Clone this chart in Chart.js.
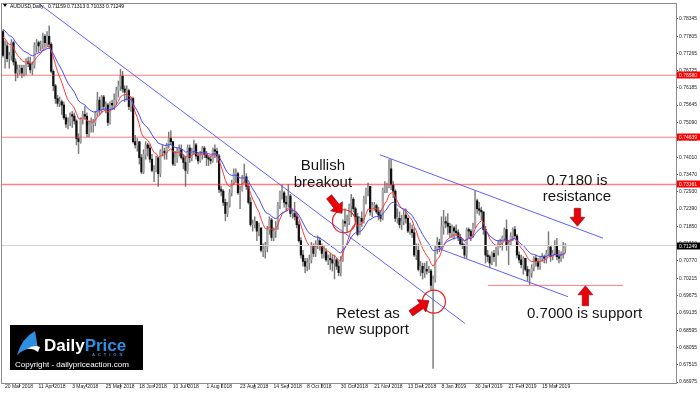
<!DOCTYPE html>
<html>
<head>
<meta charset="utf-8">
<script src="https://cdn.jsdelivr.net/npm/chart.js@4.4.0/dist/chart.umd.min.js"></script>
<style>
  html, body { margin: 0; padding: 0; background: #fff; }
  #wrap { width: 700px; height: 394px; }
</style>
</head>
<body>
<div id="wrap"><canvas id="audChart" width="700" height="394"></canvas></div>
<script>
// AUDUSD daily, prices in pips (x 10000)
const symbolTitle = 'AUDUSD,Daily';
const lastOhlc = ['0.71159', '0.71313', '0.71033', '0.71249'];

const tickBars = [0, 16, 32, 48, 64, 80, 96, 112, 128, 144, 160, 176, 192, 208, 224, 240, 256];
const tickLabels = ['20 Mar 2018', '11 Apr 2018', '3 May 2018', '25 May 2018', '18 Jun 2018', '10 Jul 2018',
  '1 Aug 2018', '23 Aug 2018', '14 Sep 2018', '8 Oct 2018', '30 Oct 2018', '21 Nov 2018', '13 Dec 2018',
  '8 Jan 2019', '30 Jan 2019', '21 Feb 2019', '15 Mar 2019'];
const priceLabels = ['0.78345', '0.77805', '0.77265', '0.76725', '0.76185', '0.75645', '0.75090', '0.74550',
  '0.74010', '0.73470', '0.72930', '0.72390', '0.71850', '0.71310', '0.70770', '0.70215', '0.69675',
  '0.69135', '0.68595', '0.68055', '0.67515', '0.66975'];

const levels = [7658.0, 7463.9, 7316.1];
const levelLabels = ['0.76580', '0.74639', '0.73161'];
const lastPrice = 7124.9;
const supportLevel = 7000;

const firstOpen = 7795;
const closes = [
  7720,7750,7710,7720,7760,7700,7665,7675,7680,7665,
  7680,7700,7695,7675,7690,7750,7760,7750,7755,7780,
  7760,7780,7755,7670,7625,7585,7570,7575,7565,7525,
  7505,7510,7535,7530,7515,7460,7450,7520,7535,7530,
  7475,7500,7505,7510,7540,7580,7550,7590,7560,7565,
  7510,7570,7565,7580,7610,7625,7655,7615,7605,7610,
  7560,7585,7450,7440,7450,7400,7355,7410,7440,7430,
  7395,7360,7360,7400,7350,7420,7420,7415,7440,7460,
  7450,7380,7400,7420,7425,7400,7385,7360,7430,7400,
  7420,7440,7405,7390,7410,7430,7410,7400,7395,7390,
  7425,7420,7405,7300,7295,7260,7225,7250,7290,7320,
  7350,7350,7290,7300,7335,7340,7310,7260,7190,7190,
  7200,7170,7180,7110,7110,7120,7175,7205,7150,7170,
  7180,7250,7290,7290,7260,7255,7280,7225,7225,7215,
  7190,7140,7095,7075,7060,7070,7080,7125,7100,7130,
  7140,7125,7100,7105,7080,7085,7080,7070,7080,7060,
  7040,7080,7200,7195,7200,7250,7270,7240,7215,7160,
  7210,7200,7270,7300,7310,7230,7250,7250,7230,7220,
  7210,7300,7310,7310,7365,7315,7295,7210,7210,7190,
  7200,7220,7210,7170,7175,7165,7095,7110,7050,7060,
  7040,7050,7045,7045,7000,7020,7115,7135,7120,7185,
  7200,7195,7185,7165,7180,7170,7165,7150,7130,7125,
  7095,7175,7170,7155,7185,7265,7240,7235,7230,7175,
  7095,7090,7070,7100,7090,7110,7130,7135,7150,7175,
  7125,7130,7155,7175,7155,7095,7080,7065,7085,7050,
  7030,7040,7055,7085,7075,7060,7085,7090,7085,7100,
  7120,7090,7100,7125,7090,7085,7095,7115.9,7124.9
];
const highs = [
  7800,7765,7760,7730,7770,7765,7710,7690,7690,7690,
  7690,7710,7715,7715,7700,7760,7770,7765,7765,7790,
  7785,7795,7813,7760,7675,7630,7595,7590,7580,7575,
  7535,7525,7540,7545,7540,7520,7475,7525,7545,7560,
  7540,7515,7525,7520,7545,7605,7590,7595,7595,7575,
  7570,7575,7580,7600,7620,7640,7677,7670,7625,7625,
  7615,7590,7590,7470,7460,7450,7410,7425,7450,7445,
  7440,7410,7375,7405,7400,7425,7440,7430,7445,7480,
  7485,7450,7420,7430,7440,7440,7410,7405,7440,7440,
  7430,7455,7445,7415,7420,7435,7435,7420,7405,7405,
  7430,7440,7430,7410,7310,7300,7270,7260,7300,7330,
  7365,7365,7355,7310,7345,7380,7350,7320,7275,7205,
  7215,7200,7195,7180,7130,7135,7185,7215,7210,7180,
  7200,7260,7295,7315,7295,7280,7316,7285,7240,7260,
  7230,7200,7150,7110,7085,7085,7095,7135,7130,7140,
  7155,7150,7130,7125,7115,7095,7100,7095,7095,7085,
  7075,7090,7205,7240,7220,7255,7285,7275,7245,7225,
  7215,7230,7280,7305,7320,7310,7260,7260,7255,7245,
  7235,7305,7325,7320,7394,7395,7325,7300,7240,7230,
  7220,7235,7240,7215,7195,7190,7180,7130,7130,7075,
  7070,7070,7075,7060,7050,7030,7125,7150,7145,7215,
  7235,7215,7225,7195,7190,7185,7190,7175,7160,7145,
  7130,7180,7180,7175,7195,7296,7270,7260,7245,7230,
  7185,7110,7095,7105,7110,7120,7140,7145,7155,7180,
  7205,7140,7165,7180,7185,7160,7105,7095,7090,7085,
  7060,7050,7065,7090,7095,7085,7090,7100,7095,7110,
  7168,7125,7110,7140,7147,7110,7105,7135,7131.3
];
const lows = [
  7715,7680,7700,7680,7705,7690,7640,7650,7660,7650,
  7655,7660,7685,7665,7660,7680,7730,7730,7735,7740,
  7745,7750,7745,7665,7610,7570,7560,7560,7535,7520,
  7495,7490,7500,7495,7505,7440,7413,7445,7505,7520,
  7465,7465,7480,7480,7500,7530,7535,7540,7550,7540,
  7500,7505,7550,7550,7565,7590,7610,7605,7575,7580,
  7550,7545,7445,7430,7420,7380,7350,7350,7395,7405,
  7385,7355,7325,7355,7310,7340,7405,7395,7395,7430,
  7440,7375,7375,7385,7405,7395,7365,7310,7350,7385,
  7390,7410,7395,7380,7385,7395,7400,7375,7375,7380,
  7385,7400,7385,7290,7280,7250,7202,7215,7245,7280,
  7315,7325,7285,7240,7295,7320,7300,7255,7185,7170,
  7180,7140,7155,7105,7090,7085,7105,7160,7140,7140,
  7150,7175,7240,7270,7245,7235,7245,7215,7210,7205,
  7180,7135,7085,7060,7040,7045,7050,7070,7090,7090,
  7115,7110,7085,7085,7075,7065,7050,7045,7020,7050,
  7030,7030,7075,7185,7165,7190,7215,7230,7200,7155,
  7160,7185,7195,7255,7280,7220,7215,7235,7225,7205,
  7200,7205,7290,7290,7305,7300,7275,7200,7195,7180,
  7175,7190,7195,7165,7160,7150,7090,7080,7045,7030,
  7020,7025,7035,7040,6985,6740,7010,7100,7105,7110,
  7160,7180,7160,7150,7150,7145,7155,7140,7125,7115,
  7085,7085,7150,7140,7150,7180,7225,7220,7205,7160,
  7070,7075,7055,7065,7075,7060,7095,7120,7110,7140,
  7110,7065,7125,7140,7150,7085,7070,7055,7035,7045,
  7015,7003,7025,7045,7060,7050,7050,7075,7070,7070,
  7095,7075,7080,7095,7080,7070,7075,7085,7103.3
];
// daily FX bars open at the previous close
const opens = closes.map((c, i) => i === 0 ? firstOpen : closes[i - 1]);

// moving averages (10 and 20 EMA), seeded with the levels at the left edge
const maSeedRed = 7790, maSeedBlue = 7810;
function ema(src, n, seed) {
  let e = seed;
  return src.map(v => (e = e + (v - e) * 2 / (n + 1)));
}
const emaRed = ema(closes, 10, maSeedRed);
const emaBlue = ema(closes, 20, maSeedBlue);

// drawn trend lines [bar, price]
const trendMain = [[16.7, 7884.2], [220.2, 6880.8]];
const channelTop = [[179.7, 7408.9], [286.0, 7147.9]];
const channelBottom = [[208.3, 7113.8], [269.3, 6964.6]];
const supportSeg = [[231.2, supportLevel], [295.5, supportLevel]];

const xMin = -0.4766, xMax = 320.78;
const yMin = 6694.38, yMax = 7881.10;

const bull = '#a8a8a8', bear = '#111111';
const toPts = arr => arr.map(p => ({ x: p[0], y: p[1] }));
const lineDs = (pts, color, width) => ({
  type: 'line', data: toPts(pts), borderColor: color, borderWidth: width || 1,
  pointRadius: 0, tension: 0, fill: false
});

const datasets = [
  {
    type: 'bar', data: closes.map((c, i) => ({ x: i, y: [lows[i], highs[i]] })),
    backgroundColor: '#7a7a7a', barThickness: 0.8, grouped: false, order: 5
  },
  {
    type: 'bar', data: closes.map((c, i) => ({ x: i, y: [opens[i], closes[i]] })),
    backgroundColor: ctx => closes[ctx.dataIndex] >= opens[ctx.dataIndex] ? bull : bear,
    barThickness: 1.6, minBarLength: 1, grouped: false, order: 4
  },
  { type: 'line', data: emaRed.map((v, i) => ({ x: i, y: v })), borderColor: '#ff3a3a', borderWidth: 1, pointRadius: 0, order: 3 },
  { type: 'line', data: emaBlue.map((v, i) => ({ x: i, y: v })), borderColor: '#4747ff', borderWidth: 1, pointRadius: 0, order: 2 },
  lineDs([[xMin, levels[0]], [xMax, levels[0]]], 'rgba(255,40,40,0.6)'),
  lineDs([[xMin, levels[1]], [xMax, levels[1]]], 'rgba(255,40,40,0.6)'),
  lineDs([[xMin, levels[2]], [xMax, levels[2]]], 'rgba(255,40,40,0.6)', 1.5),
  lineDs([[xMin, lastPrice], [xMax, lastPrice]], '#d2d2d2'),
  lineDs(supportSeg, 'rgba(255,40,40,0.6)'),
  lineDs(trendMain, '#6060ff'),
  lineDs(channelTop, '#6060ff'),
  lineDs(channelBottom, '#6060ff')
];

// annotations in chart coordinates [bar, price]
const notes = [
  { text: 'Bullish', at: [152.5, 7362.3] },
  { text: 'breakout', at: [152.5, 7309.5] },
  { text: '0.7180 is', at: [273.6, 7315.7] },
  { text: 'resistance', at: [273.6, 7262.9] },
  { text: '0.7000 is support', at: [277.2, 6899.3] },
  { text: 'Retest as', at: [174.0, 6899.3] },
  { text: 'new support', at: [174.0, 6846.6] }
];
const rings = [[162.5, 7200.8], [205.4, 6949.1]];
const arrows = [
  { at: [161.6, 7225.6], angle: 52, len: 21 },
  { at: [273.8, 7185.2], angle: 90, len: 18 },
  { at: [277.6, 6998.8], angle: -90, len: 20 },
  { at: [203.0, 6952.2], angle: -35, len: 22 }
];

function drawArrow(ctx, x, y, angle, len) {
  const hl = 9, hw = 7.5, sw = 3.2;
  ctx.save();
  ctx.translate(x, y);
  ctx.rotate(angle * Math.PI / 180);
  ctx.beginPath();
  ctx.moveTo(0, 0);
  ctx.lineTo(-hl, hw);
  ctx.lineTo(-hl, sw);
  ctx.lineTo(-len, sw);
  ctx.lineTo(-len, -sw);
  ctx.lineTo(-hl, -sw);
  ctx.lineTo(-hl, -hw);
  ctx.closePath();
  ctx.fillStyle = '#e8000b';
  ctx.fill();
  ctx.strokeStyle = '#9a0000';
  ctx.lineWidth = 0.6;
  ctx.stroke();
  ctx.restore();
}

const overlay = {
  id: 'overlay',
  beforeDraw(chart) {
    const ctx = chart.ctx;
    ctx.save();
    ctx.fillStyle = '#fff';
    ctx.fillRect(0, 0, chart.width, chart.height);
    ctx.restore();
  },
  afterDatasetsDraw(chart) {
    const ctx = chart.ctx, xs = chart.scales.x, ys = chart.scales.y;
    ctx.save();
    rings.forEach(r => {
      ctx.beginPath();
      ctx.arc(xs.getPixelForValue(r[0]), ys.getPixelForValue(r[1]), 11.5, 0, Math.PI * 2);
      ctx.strokeStyle = '#ee2020';
      ctx.lineWidth = 1.2;
      ctx.stroke();
    });
    arrows.forEach(a => drawArrow(ctx, xs.getPixelForValue(a.at[0]), ys.getPixelForValue(a.at[1]), a.angle, a.len));
    ctx.fillStyle = '#151515';
    ctx.font = '15px "Liberation Sans", Arial, sans-serif';
    ctx.textAlign = 'center';
    ctx.textBaseline = 'alphabetic';
    notes.forEach(n => ctx.fillText(n.text, xs.getPixelForValue(n.at[0]), ys.getPixelForValue(n.at[1])));
    ctx.restore();
  },
  afterDraw(chart) {
    const ctx = chart.ctx, a = chart.chartArea, ys = chart.scales.y;
    ctx.save();
    // frame
    ctx.strokeStyle = '#8c8c8c';
    ctx.lineWidth = 1;
    ctx.strokeRect(a.left - 0.5, a.top - 0.5, a.right - a.left + 1, a.bottom - a.top + 1);
    // price tags on the right axis
    ctx.font = '5px "Liberation Sans", Arial, sans-serif';
    ctx.textAlign = 'left';
    ctx.textBaseline = 'middle';
    const tag = (v, txt, bg) => {
      const y = Math.round(ys.getPixelForValue(v));
      ctx.fillStyle = bg;
      ctx.fillRect(a.right + 1, y - 3.5, 23, 7);
      ctx.fillStyle = '#fff';
      ctx.fillText(txt, a.right + 3, y + 0.5);
    };
    levels.forEach((v, k) => tag(v, levelLabels[k], '#ff0000'));
    tag(lastPrice, lastOhlc[3], '#000');
    // header
    ctx.fillStyle = '#000';
    ctx.beginPath();
    ctx.moveTo(3, 4); ctx.lineTo(7, 4); ctx.lineTo(5, 7); ctx.closePath(); ctx.fill();
    ctx.textBaseline = 'alphabetic';
    ctx.fillText(symbolTitle, 10, 7.5);
    ctx.fillText(lastOhlc.join(' '), 48, 7.5);
    // logo
    ctx.fillStyle = '#000';
    ctx.fillRect(10, 325, 133, 45);
    ctx.fillStyle = '#2f8ee0';
    ctx.beginPath();
    ctx.moveTo(17, 355);
    ctx.quadraticCurveTo(22, 338, 35, 331);
    ctx.lineTo(38, 349);
    ctx.quadraticCurveTo(27, 346, 17, 355);
    ctx.fill();
    ctx.fillStyle = '#fff';
    ctx.beginPath();
    ctx.moveTo(27, 349);
    ctx.quadraticCurveTo(34, 344, 40, 347);
    ctx.lineTo(38, 352);
    ctx.quadraticCurveTo(33, 348, 27, 349);
    ctx.fill();
    ctx.font = 'bold 17px "Liberation Sans", Arial, sans-serif';
    ctx.fillStyle = '#fff';
    ctx.fillText('Daily', 44, 351);
    const w = ctx.measureText('Daily').width;
    ctx.fillStyle = '#2f8ee0';
    ctx.fillText('Price', 44 + w, 351);
    ctx.font = 'bold 4px "Liberation Sans", Arial, sans-serif';
    ctx.letterSpacing = '3px';
    ctx.fillText('ACTION', 92, 356);
    ctx.letterSpacing = '0px';
    ctx.fillStyle = '#fff';
    ctx.font = '8px "Liberation Sans", Arial, sans-serif';
    ctx.fillText('Copyright - dailypriceaction.com', 15, 367);
    ctx.restore();
  }
};

Chart.defaults.font.family = '"Liberation Sans", Arial, sans-serif';

new Chart(document.getElementById('audChart').getContext('2d'), {
  type: 'bar',
  data: { datasets },
  options: {
    responsive: false,
    devicePixelRatio: 1,
    animation: false,
    layout: { padding: { left: 2, top: 1, right: 0, bottom: 0 } },
    plugins: { legend: { display: false }, tooltip: { enabled: false } },
    scales: {
      x: {
        type: 'linear', min: xMin, max: xMax, offset: false,
        afterBuildTicks: s => { s.ticks = tickBars.map(v => ({ value: v })); },
        afterFit: s => { s.height = 11; },
        grid: { drawOnChartArea: false, drawTicks: true, tickLength: 4, color: '#555' },
        border: { display: false },
        ticks: {
          autoSkip: false, maxRotation: 0, align: 'start', padding: -3, labelOffset: 2,
          color: '#222', font: { size: 5 },
          callback: (v, i) => tickLabels[i]
        }
      },
      y: {
        type: 'linear', position: 'right', min: yMin, max: yMax,
        afterBuildTicks: s => { s.ticks = priceLabels.map(t => ({ value: parseFloat(t) * 10000 })); },
        afterFit: s => { s.width = 24; },
        grid: { drawOnChartArea: false, drawTicks: true, tickLength: 2, color: '#555' },
        border: { display: false },
        ticks: {
          autoSkip: false, padding: 1, color: '#222', font: { size: 5 },
          callback: (v, i) => priceLabels[i]
        }
      }
    }
  },
  plugins: [overlay]
});
</script>
</body>
</html>
